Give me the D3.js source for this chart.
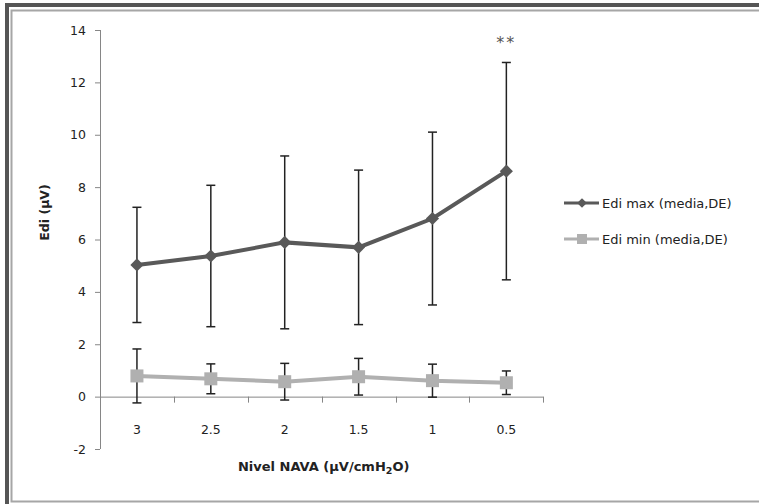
<!DOCTYPE html>
<html>
<head>
<meta charset="utf-8">
<script src="https://cdn.jsdelivr.net/npm/d3@7"></script>
<style>
  body { margin: 0; background: #fff; }
  text { font-family: "DejaVu Sans", sans-serif; fill: #222; }
  .axis path, .axis line { stroke: #868686; }
  .axis text { font-size: 12.5px; fill: #222; }
</style>
</head>
<body>
<svg id="chart" width="759" height="504"></svg>
<script>
// categories (NAVA level) and series
var niveles = ['3', '2.5', '2', '1.5', '1', '0.5'];
var ediMax = [5.03, 5.37, 5.89, 5.70, 6.80, 8.61];
var ediMaxDE = [2.2, 2.7, 3.3, 2.95, 3.3, 4.15];
var ediMin = [0.79, 0.68, 0.57, 0.76, 0.61, 0.53];
var ediMinDE = [1.03, 0.57, 0.70, 0.70, 0.63, 0.45];
var yTicks = [-2, 0, 2, 4, 6, 8, 10, 12, 14];

var margin = {top: 30, left: 100},
    width = 443.3,
    height = 419;

var svg = d3.select('#chart');

// frame: dark band top/left, thin gray line inside
svg.append('rect').attr('x', 5).attr('y', 3).attr('width', 754).attr('height', 4).attr('fill', '#555');
svg.append('rect').attr('x', 5).attr('y', 3).attr('width', 4).attr('height', 501).attr('fill', '#555');
svg.append('path')
  .attr('d', 'M759,10.5 H11.5 V501.5 H759')
  .attr('fill', 'none').attr('stroke', '#a6a6a6').attr('stroke-width', 2);

var x = d3.scaleBand().domain(niveles).range([0, width]),
    y = d3.scaleLinear().domain([-2, 14]).range([height, 0]);

var g = svg.append('g')
  .attr('transform', 'translate(' + margin.left + ',' + margin.top + ')');

// Y axis (plain hyphen for negatives, like the original)
g.append('g')
  .attr('class', 'axis')
  .call(d3.axisLeft(y).tickValues(yTicks).tickSize(5).tickPadding(9).tickSizeOuter(0)
    .tickFormat(function(d) { return String(d); }))
  .call(function(a) { a.select('.domain').attr('d', 'M0.5,0V' + height); });

// X axis at y = 0, ticks between the categories
var xAxis = g.append('g')
  .attr('class', 'axis')
  .attr('transform', 'translate(0,' + y(0) + ')');
xAxis.append('line').attr('x1', 0).attr('x2', width).attr('y1', 0.5).attr('y2', 0.5);
xAxis.selectAll('.tk')
  .data(d3.range(niveles.length + 1))
  .enter().append('line')
  .attr('x1', function(i) { return Math.round(i * x.step()) + 0.5; })
  .attr('x2', function(i) { return Math.round(i * x.step()) + 0.5; })
  .attr('y1', 0).attr('y2', 6);
xAxis.selectAll('.lbl')
  .data(niveles)
  .enter().append('text')
  .attr('x', function(d) { return x(d) + x.bandwidth() / 2; })
  .attr('y', 33)
  .attr('dy', '0.35em')
  .attr('text-anchor', 'middle')
  .text(function(d) { return d; });

// axis titles
var xt = g.append('text')
  .attr('x', width / 2 + 2).attr('y', 436)
  .attr('dy', '0.35em')
  .attr('text-anchor', 'middle')
  .style('font-weight', 'bold').style('font-size', '13px');
xt.append('tspan').text('Nivel NAVA (µV/cmH');
xt.append('tspan').attr('font-size', '9.5px').attr('dy', '3').text('2');
xt.append('tspan').attr('dy', '-3').text('O)');

g.append('text')
  .attr('transform', 'translate(-55,' + (height / 2 - 27) + ') rotate(-90)')
  .attr('dy', '0.35em')
  .attr('text-anchor', 'middle')
  .style('font-weight', 'bold').style('font-size', '12.5px')
  .text('Edi (µV)');

function cx(i) { return x(niveles[i]) + x.bandwidth() / 2; }

function errorBars(vals, sds) {
  var eb = g.append('g').attr('stroke', '#222').attr('stroke-width', 1.5);
  vals.forEach(function(v, i) {
    var x0 = cx(i), y1 = y(v + sds[i]), y2 = y(v - sds[i]);
    eb.append('line').attr('x1', x0).attr('x2', x0).attr('y1', y1).attr('y2', y2);
    eb.append('line').attr('x1', x0 - 4.5).attr('x2', x0 + 4.5).attr('y1', y1).attr('y2', y1);
    eb.append('line').attr('x1', x0 - 4.5).attr('x2', x0 + 4.5).attr('y1', y2).attr('y2', y2);
  });
}

var line = d3.line()
  .x(function(d, i) { return cx(i); })
  .y(function(d) { return y(d); });

// Edi min (light gray squares)
errorBars(ediMin, ediMinDE);
g.append('path').datum(ediMin)
  .attr('d', line).attr('fill', 'none')
  .attr('stroke', '#b0b0b0').attr('stroke-width', 4);
g.selectAll('.sq').data(ediMin).enter().append('rect')
  .attr('x', function(d, i) { return cx(i) - 6.5; })
  .attr('y', function(d) { return y(d) - 6.5; })
  .attr('width', 13).attr('height', 13)
  .attr('fill', '#b0b0b0');

// Edi max (dark gray diamonds)
errorBars(ediMax, ediMaxDE);
g.append('path').datum(ediMax)
  .attr('d', line).attr('fill', 'none')
  .attr('stroke', '#595959').attr('stroke-width', 4);
var diamond = d3.symbol().type(d3.symbolDiamond2).size(110);
g.selectAll('.dm').data(ediMax).enter().append('path')
  .attr('transform', function(d, i) { return 'translate(' + cx(i) + ',' + y(d) + ')'; })
  .attr('d', diamond)
  .attr('fill', '#595959');

// significance mark
g.append('text')
  .attr('x', cx(5)).attr('y', 12)
  .attr('dy', '0.35em').attr('text-anchor', 'middle')
  .style('font-size', '16px').style('fill', '#555').style('letter-spacing', '2px')
  .text('**');

// legend
var legend = svg.append('g').attr('transform', 'translate(564,0)');
var items = [
  {name: 'Edi max (media,DE)', color: '#595959', y: 203, shape: 'diamond'},
  {name: 'Edi min (media,DE)', color: '#b0b0b0', y: 239, shape: 'square'}
];
items.forEach(function(it) {
  legend.append('line').attr('x1', 0).attr('x2', 35).attr('y1', it.y).attr('y2', it.y)
    .attr('stroke', it.color).attr('stroke-width', 3);
  if (it.shape === 'diamond') {
    legend.append('path').attr('transform', 'translate(18,' + it.y + ')')
      .attr('d', d3.symbol().type(d3.symbolDiamond2).size(60)).attr('fill', it.color);
  } else {
    legend.append('rect').attr('x', 13).attr('y', it.y - 5).attr('width', 10).attr('height', 10)
      .attr('fill', it.color);
  }
  legend.append('text').attr('x', 38).attr('y', it.y).attr('dy', '0.35em')
    .style('font-size', '13px').text(it.name);
});
</script>
</body>
</html>
